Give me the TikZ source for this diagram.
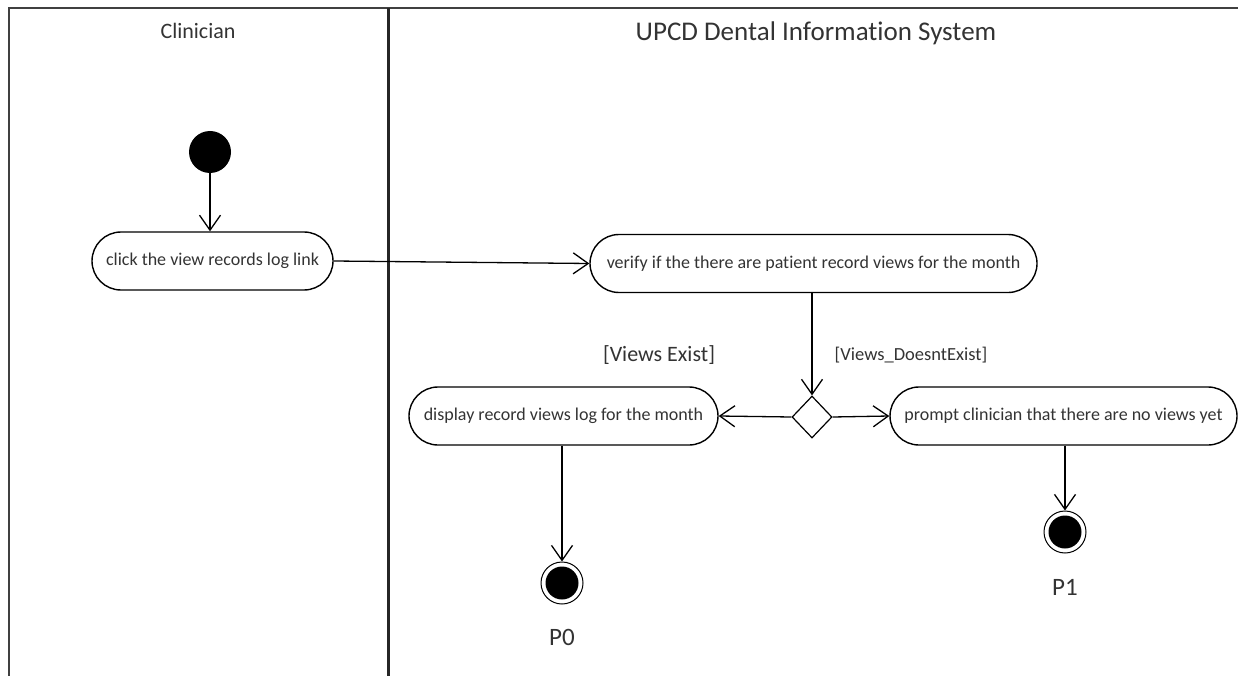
\documentclass[tikz,border=0pt]{standalone}
\usepackage{fontspec}
\setmainfont{Carlito}[Ligatures=NoCommon]
\usetikzlibrary{arrows.meta,shapes.geometric}
\definecolor{ink}{HTML}{333333}
\begin{document}
\begin{tikzpicture}[x=1pt,y=-1pt,
  every node/.style={text=ink},
  activity/.style={draw=black, line width=1.4pt, rectangle, rounded corners=29pt,
    minimum height=58pt, inner sep=0pt, font=\fontsize{18}{20}\selectfont},
  startnode/.style={circle, fill=black, draw=none, minimum size=42pt, inner sep=0pt},
  endnode/.style={circle, draw=black, line width=1pt, minimum size=42pt, inner sep=0pt,
    path picture={\fill[black] (path picture bounding box.center) circle (16.5pt);}},
  decision/.style={diamond, draw=black, line width=1.2pt, minimum width=40pt,
    minimum height=42pt, inner sep=0pt},
  flow/.style={draw=black, line width=1.3pt, -{Straight Barb[length=15pt,width=21pt,line width=1.3pt]}},
  lane/.style={font=\fontsize{22}{24}\selectfont},
  guard/.style={inner sep=0pt}
]
\useasboundingbox (0,0) rectangle (1238,676);

% swimlane frame
\draw[line width=2pt, draw=black!75] (9,676) -- (9,8) -- (1238,8);
\draw[line width=3pt, draw=black!85] (388,8) -- (388,676);

% lane headings
\node[lane] (clin) at (198,31) {Clinician};
\node[font=\fontsize{27}{29}\selectfont] (sys) at (816,33) {UPCD Dental Information System};

% nodes
\node[startnode] (start) at (210,152) {};
\node[activity, minimum width=241pt] (click) at (212.5,261) {click the view records log link};
\node[activity, minimum width=447pt] (verify) at (813.5,263.5) {verify if the there are patient record views for the month};
\node[decision] (dec) at (812,417) {};
\node[activity, minimum width=309pt] (display) at (563.5,416) {display record views log for the month};
\node[activity, minimum width=347pt] (prompt) at (1063.5,416) {prompt clinician that there are no views yet};
\node[endnode] (end0) at (562,583) {};
\node[endnode] (end1) at (1065,532) {};

% labels
\node[guard, font=\fontsize{22}{24}\selectfont] (gexist) at (659,355) {[Views Exist]};
\node[guard, font=\fontsize{18.5}{20}\selectfont] (gnone) at (911,355) {[Views\_DoesntExist]};
\node[font=\fontsize{25}{27}\selectfont] (p0) at (562,637) {P0};
\node[font=\fontsize{25}{27}\selectfont] (p1) at (1065,587) {P1};

% control flow
\draw[flow] (start) -- (start |- click.north);
\draw[flow] (click.east) -- (verify.west);
\draw[flow] (dec.north |- verify.south) -- (dec.north);
\draw[flow] (dec.west) -- (display.east);
\draw[flow] (dec.east) -- (prompt.west);
\draw[flow] (end0 |- display.south) -- (end0.north);
\draw[flow] (end1 |- prompt.south) -- (end1.north);
\end{tikzpicture}
\end{document}
